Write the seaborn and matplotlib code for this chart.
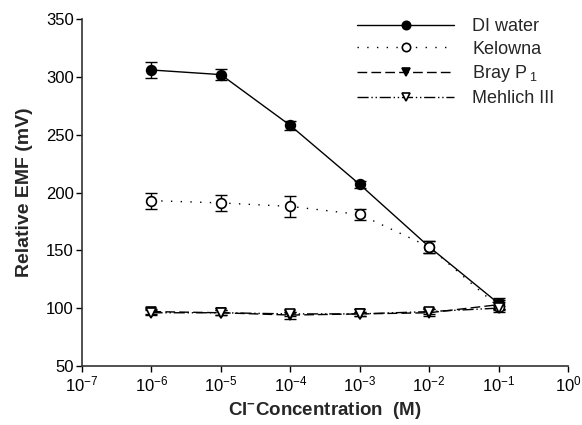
import numpy as np
import pandas as pd
import matplotlib
matplotlib.use("Agg")
import matplotlib.pyplot as plt
import seaborn as sns

conc = [1e-6, 1e-5, 1e-4, 1e-3, 1e-2, 1e-1]
di_water = [306, 302, 258, 207, 153, 104]
di_err = [7, 5, 4, 3, 5, 5]
kelowna = [193, 191, 188, 181, 153, 101]
kel_err = [7, 7, 9, 5, 5, 4]
bray = [97, 96, 94, 95, 96, 103]
bray_err = [2, 2, 3, 2, 3, 4]
mehlich = [96, 96, 95, 95, 97, 100]
meh_err = [2, 2, 2, 2, 2, 2]
series_names = ["DI water", "Kelowna", "Bray P$_{\\ 1}$", "Mehlich III"]
xtick_labels = ["10$^{-7}$", "10$^{-6}$", "10$^{-5}$", "10$^{-4}$",
                "10$^{-3}$", "10$^{-2}$", "10$^{-1}$", "10$^{0}$"]

sns.set_theme(style="ticks")
plt.rcParams['font.family'] = ['Liberation Sans', 'DejaVu Sans']
plt.rcParams['mathtext.fontset'] = 'custom'
plt.rcParams['mathtext.rm'] = 'Liberation Sans'
plt.rcParams['mathtext.it'] = 'Liberation Sans'
plt.rcParams['mathtext.bf'] = 'Liberation Sans:bold'

fig = plt.figure(figsize=(5.82, 4.25), dpi=100)
ax = fig.add_axes([0.141, 0.139, 0.835, 0.816])

styles = [
    dict(ls='-', marker='o', mfc='black', ms=7),
    dict(ls=(0, (1, 6)), marker='o', mfc='white', ms=7),
    dict(ls=(0, (7, 3)), marker='v', mfc='black', ms=7),
    dict(ls=(0, (8, 2, 1, 2, 1, 2)), marker='v', mfc='white', ms=7),
]
data = [(di_water, di_err), (kelowna, kel_err), (bray, bray_err), (mehlich, meh_err)]

for (vals, errs), name, st in zip(data, series_names, styles):
    df = pd.DataFrame({"conc": conc, "emf": vals})
    sns.lineplot(data=df, x="conc", y="emf", ax=ax, color='black', lw=1.0,
                 linestyle=st['ls'], marker=st['marker'], markersize=st['ms'],
                 markerfacecolor=st['mfc'], markeredgecolor='black',
                 markeredgewidth=1.2, label=name, zorder=3)
    ax.errorbar(conc, vals, yerr=errs, fmt='none', ecolor='black',
                elinewidth=1.0, capsize=4, capthick=1.0, zorder=2)

ax.set_xscale('log')
ax.set_xlim(1e-7, 1e0)
ax.set_ylim(50, 350)
ax.set_xticks([1e-7, 1e-6, 1e-5, 1e-4, 1e-3, 1e-2, 1e-1, 1e0])
ax.set_xticklabels(xtick_labels)
ax.minorticks_off()
ax.set_yticks(range(50, 351, 50))
ax.tick_params(axis='both', labelsize=12, direction='out', length=4, width=1,
               colors='black', pad=2)
for s in ['left', 'bottom']:
    ax.spines[s].set_color('#333333')
    ax.spines[s].set_linewidth(1.2)
sns.despine(ax=ax)

ax.set_xlabel(r"Cl$^{\mathbf{-}}$Concentration  (M)", fontsize=13.5,
              fontweight='bold', labelpad=4)
ax.set_ylabel("Relative EMF (mV)", fontsize=14, fontweight='bold', labelpad=9)

leg = ax.legend(loc='upper left', bbox_to_anchor=(0.613, 0.958),
                bbox_transform=fig.transFigure, frameon=False,
                fontsize=13, handlelength=5.4, handletextpad=1.0,
                labelspacing=0.32, borderaxespad=0, borderpad=0)
for h in leg.legend_handles:
    h.set_markersize(6)

fig.savefig("out.png", dpi=100)
